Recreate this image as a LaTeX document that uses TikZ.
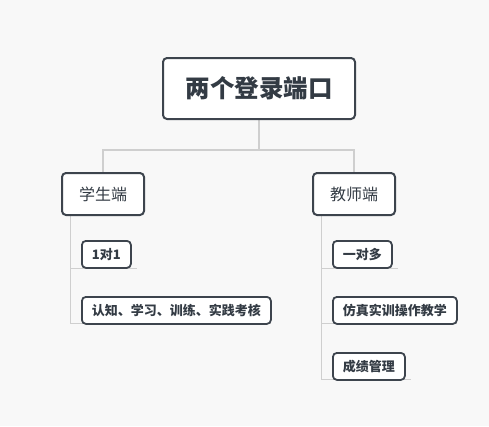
\documentclass[tikz,border=0pt]{standalone}
\usepackage{fontspec}
\usetikzlibrary{backgrounds}
\setmainfont{Noto Sans CJK SC}
\definecolor{bg}{HTML}{F8F8F8}
\definecolor{bd}{HTML}{3D444D}
\definecolor{tx}{HTML}{333B44}
\definecolor{ln}{HTML}{CFCFCF}
\begin{document}
\begin{tikzpicture}[x=1pt,y=-1pt,
  box/.style={draw=bd,fill=white,line width=2pt,rounded corners=4pt,inner sep=0pt,text=tx,anchor=north west},
  rootbox/.style={box,font=\fontsize{24.5}{28}\selectfont\bfseries},
  midbox/.style={box,font=\fontsize{16}{19}\selectfont},
  itembox/.style={box,line width=1.8pt,font=\fontsize{13}{15}\selectfont\bfseries},
  tree/.style={draw=ln,line width=2pt},
  sub/.style={draw=ln,line width=1pt}]
\useasboundingbox (0,0) rectangle (489,426);
\node[rootbox,minimum width=192pt,minimum height=61pt] (root) at (162,57) {两个登录端口};
\node[midbox,minimum width=82pt,minimum height=42pt] (stu) at (61,172) {学生端};
\node[midbox,minimum width=82pt,minimum height=42pt] (tea) at (312,172) {教师端};
\node[itembox,minimum width=49pt,minimum height=27pt] (s1) at (81,240) {1对1};
\node[itembox,minimum width=189pt,minimum height=27pt] (s2) at (81,296) {认知、学习、训练、实践考核};
\node[itembox,minimum width=59pt,minimum height=27pt] (t1) at (332,240) {一对多};
\node[itembox,minimum width=124pt,minimum height=27pt] (t2) at (332,296) {仿真实训操作教学};
\node[itembox,minimum width=72pt,minimum height=27pt] (t3) at (332,352) {成绩管理};
\coordinate (s0) at (70,214);
\coordinate (s1e) at (137,268);
\coordinate (s2e) at (271,323);
\coordinate (t0) at (321,214);
\coordinate (t1e) at (398,268);
\coordinate (t2e) at (457,323);
\coordinate (t3e) at (411,379);
\begin{scope}[on background layer]
\fill[bg] (0,0) rectangle (489,426);
\path[tree] (root.south) -- ++(0,30) coordinate (hub) -| (stu.north);
\path[tree] (hub) -| (tea.north);
\path[sub] (s0) |- (s1e);
\path[sub] (s0) |- (s2e);
\path[sub] (t0) |- (t1e);
\path[sub] (t0) |- (t2e);
\path[sub] (t0) |- (t3e);
\end{scope}
\end{tikzpicture}
\end{document}
